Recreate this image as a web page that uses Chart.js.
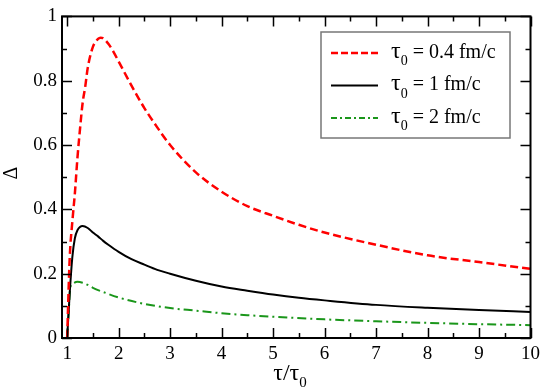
<!DOCTYPE html>
<html><head><meta charset="utf-8">
<script src="https://cdn.jsdelivr.net/npm/chart.js@4"></script>
<style>html,body{margin:0;padding:0;background:#fff}</style>
</head><body>
<canvas id="c" width="545" height="390" style="display:block;width:545px;height:390px"></canvas>
<script>
// ---- data ----
const xTicks = [1, 2, 3, 4, 5, 6, 7, 8, 9, 10];
const yTicks = [0, 0.2, 0.4, 0.6, 0.8, 1];
const yTickLabels = ['0', '0.2', '0.4', '0.6', '0.8', '1'];
const seriesLabels = ['= 0.4 fm/c', '= 1 fm/c', '= 2 fm/c'];

const xRed = [1, 1.05, 1.1, 1.15, 1.2, 1.25, 1.3, 1.35, 1.4, 1.5, 1.6, 1.65, 1.7, 1.8, 1.9, 2, 2.25, 2.5, 2.75, 3, 3.5, 4, 4.5, 5, 5.5, 6, 7, 8, 9, 10];
const yRed = [0, 0.25, 0.36, 0.45, 0.56, 0.65, 0.73, 0.78, 0.84, 0.905, 0.93, 0.934, 0.932, 0.915, 0.89, 0.86, 0.785, 0.715, 0.655, 0.60, 0.515, 0.455, 0.41, 0.38, 0.352, 0.328, 0.29, 0.257, 0.236, 0.215];

const xBlack = [1, 1.05, 1.1, 1.15, 1.2, 1.3, 1.4, 1.5, 1.6, 1.7, 1.8, 2, 2.25, 2.5, 2.75, 3, 3.5, 4, 4.5, 5, 5.5, 6, 7, 8, 9, 10];
const yBlack = [0, 0.14, 0.25, 0.31, 0.335, 0.348, 0.342, 0.328, 0.316, 0.302, 0.29, 0.268, 0.245, 0.228, 0.212, 0.200, 0.178, 0.16, 0.147, 0.135, 0.125, 0.117, 0.103, 0.094, 0.087, 0.081];

const xGreen = [1, 1.03, 1.06, 1.1, 1.2, 1.3, 1.4, 1.5, 1.75, 2, 2.5, 3, 3.5, 4, 4.5, 5, 6, 7, 8, 9, 10];
const yGreen = [0, 0.08, 0.156, 0.168, 0.175, 0.172, 0.165, 0.156, 0.14, 0.126, 0.106, 0.093, 0.085, 0.077, 0.071, 0.066, 0.058, 0.052, 0.047, 0.043, 0.040];

const pts = (xs, ys) => xs.map((x, i) => ({x: x, y: ys[i]}));
const SERIF = 'Liberation Serif';
Chart.defaults.font.family = SERIF;

const decor = {
  id: 'decor',
  afterDraw(chart) {
    const ctx = chart.ctx, a = chart.chartArea;
    const xs = chart.scales.x, ys = chart.scales.y;
    ctx.save();
    // frame
    ctx.strokeStyle = '#000'; ctx.lineWidth = 2;
    ctx.strokeRect(a.left, a.top, a.right - a.left, a.bottom - a.top);
    // ticks (inward)
    ctx.lineWidth = 1.5;
    ctx.beginPath();
    for (let v = 1; v <= 10.001; v += 0.5) {
      const px = Math.round(xs.getPixelForValue(v)) + 0.5;
      const L = (Math.abs(v - Math.round(v)) < 1e-6) ? 10 : 5;
      ctx.moveTo(px, a.bottom); ctx.lineTo(px, a.bottom - L);
      ctx.moveTo(px, a.top); ctx.lineTo(px, a.top + L);
    }
    for (let k = 0; k <= 10; k++) {
      const v = k / 10;
      const py = Math.round(ys.getPixelForValue(v)) + 0.5;
      const L = (k % 2 === 0) ? 10 : 5;
      ctx.moveTo(a.left, py); ctx.lineTo(a.left + L, py);
      ctx.moveTo(a.right, py); ctx.lineTo(a.right - L, py);
    }
    ctx.stroke();

    // legend
    const bx = 321, by = 32, bw = 189, bh = 106;
    ctx.fillStyle = '#fff';
    ctx.fillRect(bx, by, bw, bh);
    ctx.strokeStyle = '#777'; ctx.lineWidth = 1.5;
    ctx.strokeRect(bx, by, bw, bh);
    const rows = [53, 85.5, 118];
    chart.data.datasets.forEach((ds, i) => {
      const y = rows[i];
      ctx.strokeStyle = ds.borderColor;
      ctx.lineWidth = ds.borderWidth;
      ctx.setLineDash(ds.legendDash || []);
      ctx.beginPath(); ctx.moveTo(331, y); ctx.lineTo(378, y); ctx.stroke();
      ctx.setLineDash([]);
      ctx.fillStyle = '#000';
      ctx.textBaseline = 'alphabetic'; ctx.textAlign = 'left';
      const base = y + 4.5;
      ctx.font = '24px ' + SERIF;
      ctx.fillText('τ', 391, base);
      let w = ctx.measureText('τ').width;
      ctx.font = '14px ' + SERIF;
      ctx.fillText('0', 391 + w, base + 7.5);
      const w2 = ctx.measureText('0').width;
      ctx.font = '20px ' + SERIF;
      ctx.fillText(' ' + ds.label, 391 + w + w2, base);
    });

    // x title  τ/τ0
    ctx.fillStyle = '#000';
    ctx.font = '24px ' + SERIF;
    const t1 = 'τ/τ';
    const w1 = ctx.measureText(t1).width;
    ctx.font = '15px ' + SERIF;
    const ws = ctx.measureText('0').width;
    const cx = 290, startX = cx - (w1 + ws) / 2;
    ctx.font = '24px ' + SERIF;
    ctx.fillText(t1, startX, 380);
    ctx.font = '15px ' + SERIF;
    ctx.fillText('0', startX + w1, 387);

    // y title Δ rotated
    ctx.translate(17, 173);
    ctx.rotate(-Math.PI / 2);
    ctx.font = '20px ' + SERIF;
    ctx.textAlign = 'center';
    ctx.textBaseline = 'alphabetic';
    ctx.fillText('Δ', 0, 0);
    ctx.restore();
  }
};

new Chart(document.getElementById('c'), {
  type: 'line',
  data: {
    datasets: [
      { label: seriesLabels[0], data: pts(xRed, yRed), borderColor: '#ff0000', borderWidth: 2.5, borderDash: [8, 4], legendDash: [7, 3], pointRadius: 0, cubicInterpolationMode: 'monotone', fill: false },
      { label: seriesLabels[1], data: pts(xBlack, yBlack), borderColor: '#000000', borderWidth: 2, pointRadius: 0, cubicInterpolationMode: 'monotone', fill: false },
      { label: seriesLabels[2], data: pts(xGreen, yGreen), borderColor: '#1a961a', borderWidth: 2, borderDash: [9, 4, 2, 4], legendDash: [6, 3, 2, 3], pointRadius: 0, cubicInterpolationMode: 'monotone', fill: false }
    ]
  },
  options: {
    responsive: false,
    animation: false,
    devicePixelRatio: 1,
    layout: { padding: { top: 8, right: 12, left: 0, bottom: 0 } },
    plugins: { legend: { display: false }, tooltip: { enabled: false } },
    scales: {
      x: {
        type: 'linear', min: 0.9, max: 10,
        afterBuildTicks: s => { s.ticks = xTicks.map(v => ({value: v})); },
        afterFit: s => { s.height = 52; },
        grid: { display: false, drawTicks: false },
        border: { display: false },
        ticks: { color: '#000', font: { family: SERIF, size: 19 }, padding: 5, maxRotation: 0, autoSkip: false }
      },
      y: {
        type: 'linear', min: 0, max: 1,
        afterBuildTicks: s => { s.ticks = yTicks.map(v => ({value: v})); },
        afterFit: s => { s.width = 62; },
        grid: { display: false, drawTicks: false },
        border: { display: false },
        ticks: { color: '#000', font: { family: SERIF, size: 19 }, padding: 5, autoSkip: false,
          callback: (v) => { const i = yTicks.findIndex(t => Math.abs(t - v) < 1e-9); return i >= 0 ? yTickLabels[i] : ''; } }
      }
    }
  },
  plugins: [decor]
});
</script>
</body></html>
